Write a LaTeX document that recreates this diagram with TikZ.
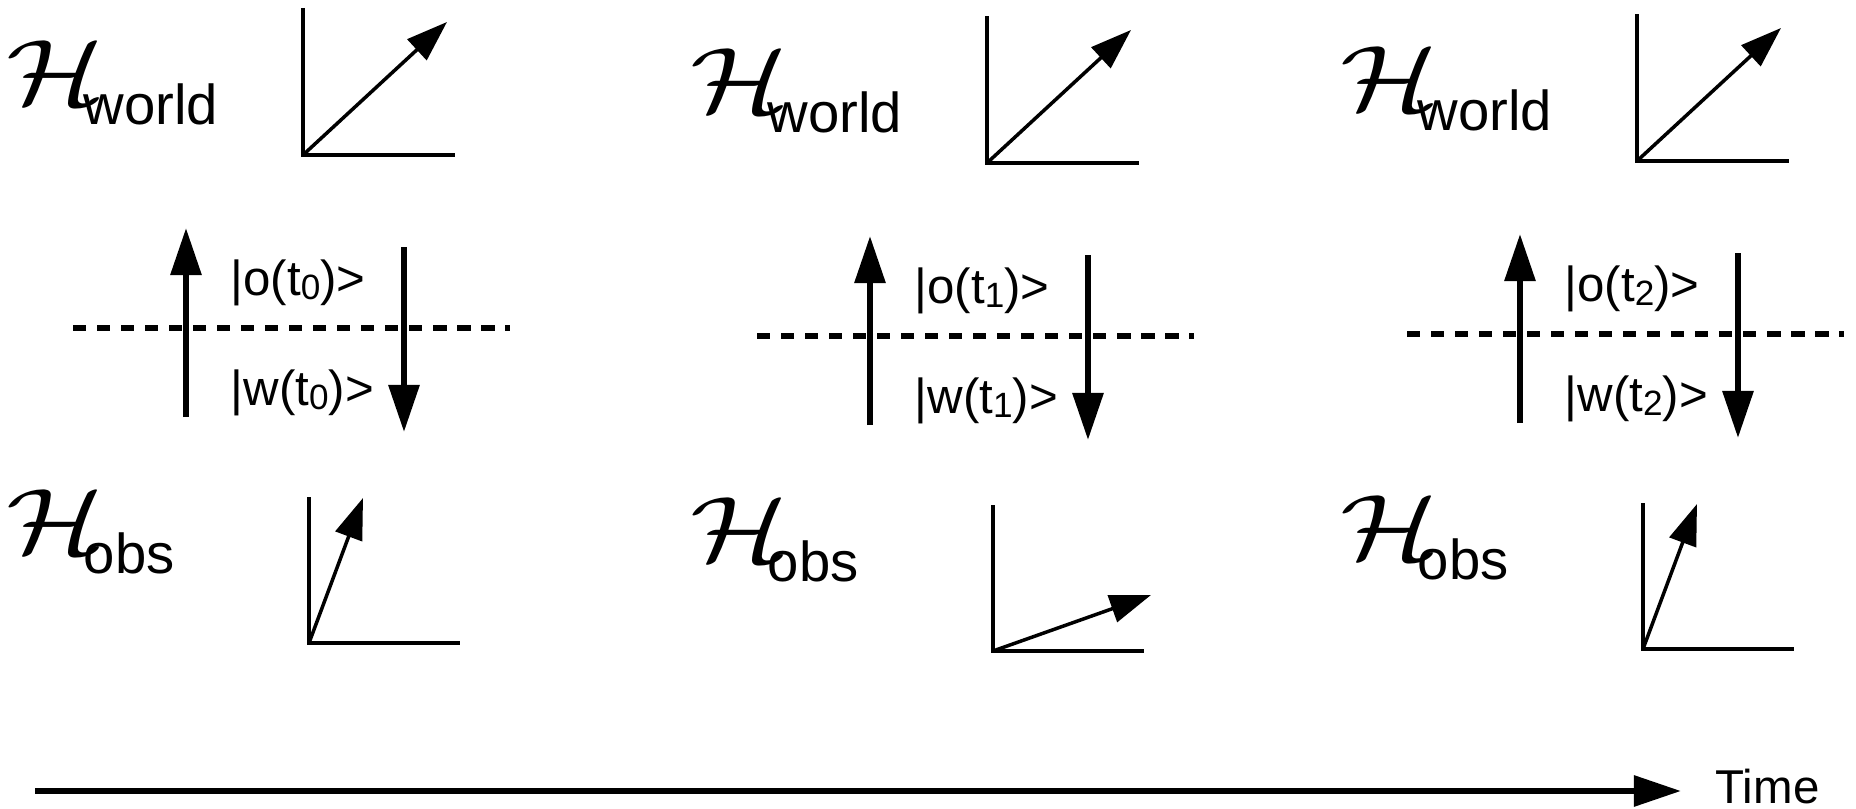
\documentclass[tikz,border=0pt]{standalone}
\usepackage{graphicx}
\usepackage{fontspec}
\setmainfont{Liberation Sans}
\usetikzlibrary{arrows.meta}
\tikzset{
  axis/.style={line width=0.035cm},
  vec/.style={line width=0.035cm, -{Triangle[length=0.41cm,width=0.28cm]}},
  flow/.style={line width=0.06cm, -{Triangle[length=0.47cm,width=0.3cm]}},
  cut/.style={line width=0.05cm, dash pattern=on 0.133cm off 0.107cm},
  lbl/.style={anchor=base west, inner sep=0pt},
}
\newcommand{\hsp}[1]{\raisebox{0.19cm}{\scalebox{3.3}[2.65]{$\mathcal{H}$}}\kern-0.22cm{\fontsize{16}{16}\selectfont #1}}
\newcommand{\kt}[2]{{\fontsize{14}{14}\selectfont |#1(t\raisebox{-0.04cm}{\fontsize{10}{10}\selectfont #2})>}}

\begin{document}
\begin{tikzpicture}[x=0.01cm, y=-0.01cm, line join=miter]
  \useasboundingbox (0,0) rectangle (1856,809);
  
  % Ba thoi diem
  \foreach \i/\dx/\dy/\vx/\vy in {0/0/0/54/-145, 1/684/8/158/-56, 2/1334/6/54/-145} {
    % Khong gian world
    \coordinate (wo\i) at (303+\dx,155+\dy);
    \coordinate (wy\i) at (303+\dx,8+\dy);
    \coordinate (wx\i) at (455+\dx,155+\dy);
    \coordinate (wv\i) at (447+\dx,22+\dy);
    \draw[axis] (wy\i) -- (wo\i) -- (wx\i);
    \draw[vec] (wo\i) -- (wv\i);
    \node[lbl] (hw\i) at (6+\dx,124+\dy) {\hsp{world}};
    
    % Duong cat va hai mui ten
    \coordinate (cl\i) at (73+\dx,328+\dy);
    \coordinate (cr\i) at (510+\dx,328+\dy);
    \draw[cut] (cl\i) -- (cr\i);
    \coordinate (ua\i) at (186+\dx,417+\dy);
    \coordinate (ub\i) at (186+\dx,228+\dy);
    \coordinate (da\i) at (404+\dx,247+\dy);
    \coordinate (db\i) at (404+\dx,432+\dy);
    \draw[flow] (ua\i) -- (ub\i);
    \draw[flow] (da\i) -- (db\i);
    \node[lbl] (ko\i) at (230+\dx,295+\dy) {\kt{o}{\i}};
    \node[lbl] (kw\i) at (230+\dx,405+\dy) {\kt{w}{\i}};
    
    % Khong gian obs
    \coordinate (oo\i) at (309+\dx,643+\dy);
    \coordinate (oy\i) at (309+\dx,497+\dy);
    \coordinate (ox\i) at (460+\dx,643+\dy);
    \coordinate (ov\i) at (309+\vx+\dx,643+\vy+\dy);
    \draw[axis] (oy\i) -- (oo\i) -- (ox\i);
    \draw[vec] (oo\i) -- (ov\i);
    \node[lbl] (ho\i) at (6+\dx,573+\dy) {\hsp{obs}};
  }
  
  % Truc thoi gian
  \coordinate (ts) at (35,791);
  \coordinate (te) at (1681,791);
  \draw[flow] (ts) -- (te);
  \node[lbl, font=\fontsize{13.5}{13.5}\selectfont] (time) at (1715,803) {Time};
\end{tikzpicture}
\end{document}
